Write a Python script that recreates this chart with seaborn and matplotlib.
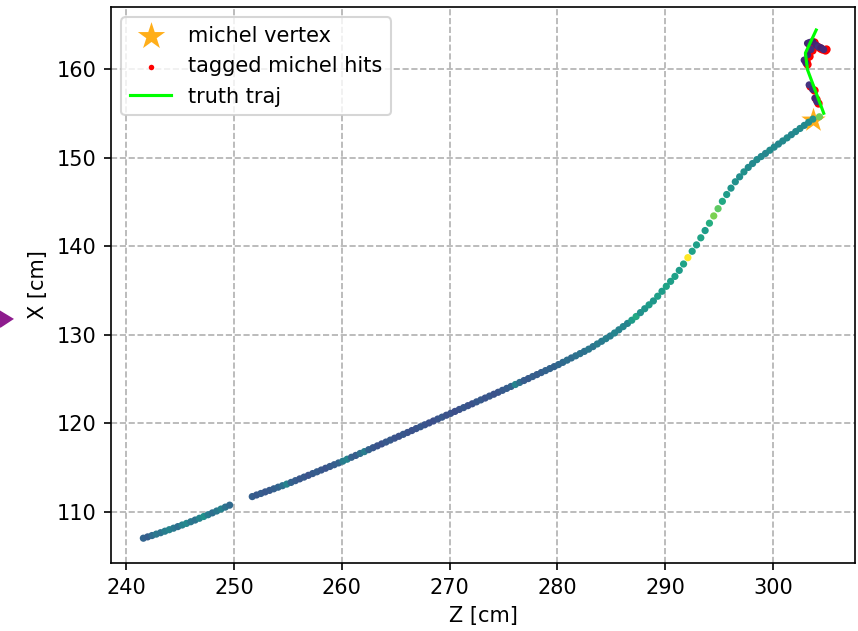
import numpy as np
import pandas as pd
import matplotlib
matplotlib.use("Agg")
import matplotlib.pyplot as plt
from matplotlib.patches import Polygon
import seaborn as sns

# track hits (Z, X in cm) and their charge (0..1, viridis)
z_track = [241.6, 242.0, 242.4, 242.8, 243.2, 243.6, 244.0, 244.4, 244.8, 245.2,
           245.6, 246.0, 246.4, 246.8, 247.2, 247.6, 248.0, 248.4, 248.8, 249.2, 249.6,
           251.7, 252.1, 252.5, 252.9, 253.3, 253.7, 254.1, 254.5, 254.9, 255.3,
           255.7, 256.1, 256.5, 256.9, 257.3, 257.7, 258.1, 258.5, 258.9, 259.3,
           259.7, 260.1, 260.5, 260.9, 261.3, 261.7, 262.1, 262.5, 262.9, 263.3,
           263.7, 264.1, 264.5, 264.9, 265.3, 265.7, 266.1, 266.5, 266.9, 267.3,
           267.7, 268.1, 268.5, 268.9, 269.3, 269.7, 270.1, 270.5, 270.9, 271.3,
           271.7, 272.1, 272.5, 272.9, 273.3, 273.7, 274.1, 274.5, 274.9, 275.3,
           275.7, 276.1, 276.5, 276.9, 277.3, 277.7, 278.1, 278.5, 278.9, 279.3,
           279.7, 280.1, 280.5, 280.9, 281.3, 281.7, 282.1, 282.5, 282.9, 283.3,
           283.7, 284.1, 284.5, 284.9, 285.3, 285.7, 286.1, 286.5, 286.9, 287.3,
           287.7, 288.1, 288.5, 288.9, 289.3, 289.7, 290.1, 290.5, 290.9, 291.3,
           291.7, 292.1, 292.5, 292.9, 293.3, 293.7, 294.1, 294.5, 294.9, 295.3,
           295.7, 296.1, 296.5, 296.9, 297.3, 297.7, 298.1, 298.5, 298.9, 299.3,
           299.7, 300.1, 300.5, 300.9, 301.3, 301.7, 302.1, 302.5, 302.9, 303.3,
           303.7, 304.3]
x_track = [107.00, 107.15, 107.30, 107.46, 107.62, 107.79, 107.96, 108.13, 108.31, 108.49,
           108.67, 108.86, 109.05, 109.25, 109.45, 109.65, 109.86, 110.07, 110.29, 110.51, 110.73,
           111.70, 111.88, 112.05, 112.23, 112.40, 112.58, 112.76, 112.93, 113.11, 113.30,
           113.50, 113.70, 113.90, 114.10, 114.30, 114.50, 114.70, 114.90, 115.10, 115.30,
           115.50, 115.70, 115.92, 116.14, 116.35, 116.57, 116.78, 117.00, 117.22, 117.43,
           117.65, 117.86, 118.08, 118.30, 118.51, 118.73, 118.94, 119.16, 119.38, 119.59,
           119.81, 120.02, 120.24, 120.46, 120.67, 120.89, 121.10, 121.32, 121.54, 121.75,
           121.97, 122.18, 122.40, 122.62, 122.83, 123.05, 123.26, 123.48, 123.70, 123.92,
           124.14, 124.36, 124.59, 124.81, 125.03, 125.26, 125.48, 125.71, 125.93, 126.16,
           126.38, 126.61, 126.86, 127.11, 127.36, 127.60, 127.85, 128.10, 128.35, 128.64,
           128.94, 129.24, 129.54, 129.84, 130.18, 130.54, 130.90, 131.26, 131.62, 132.04,
           132.48, 132.92, 133.36, 133.80, 134.33, 134.89, 135.45, 136.01, 136.57, 137.25,
           137.97, 138.69, 139.41, 140.13, 140.93, 141.75, 142.58, 143.40, 144.22, 145.05,
           145.82, 146.54, 147.26, 147.82, 148.38, 148.88, 149.32, 149.76, 150.11, 150.46,
           150.82, 151.17, 151.52, 151.87, 152.22, 152.58, 152.93, 153.28, 153.63, 153.98,
           154.34, 154.60]
q_track = [0.32, 0.30, 0.35, 0.40, 0.38, 0.42, 0.45, 0.40, 0.36, 0.44,
           0.47, 0.40, 0.38, 0.45, 0.50, 0.42, 0.36, 0.40, 0.44, 0.38, 0.34,
           0.30, 0.28, 0.29, 0.27, 0.28, 0.30, 0.32, 0.36, 0.45, 0.31,
           0.29, 0.27, 0.28, 0.26, 0.28, 0.29, 0.27, 0.26, 0.28, 0.29,
           0.31, 0.42, 0.45, 0.31, 0.29, 0.36, 0.42, 0.31, 0.27, 0.26,
           0.25, 0.27, 0.28, 0.26, 0.25, 0.27, 0.26, 0.25, 0.26, 0.27,
           0.26, 0.25, 0.24, 0.26, 0.27, 0.25, 0.26, 0.24, 0.25, 0.27,
           0.26, 0.25, 0.27, 0.28, 0.26, 0.27, 0.25, 0.26, 0.28, 0.29,
           0.31, 0.45, 0.36, 0.29, 0.28, 0.30, 0.29, 0.30, 0.31, 0.32,
           0.31, 0.33, 0.34, 0.36, 0.35, 0.37, 0.38, 0.37, 0.40, 0.39,
           0.42, 0.41, 0.43, 0.42, 0.45, 0.44, 0.46, 0.45, 0.55, 0.60,
           0.50, 0.52, 0.55, 0.53, 0.56, 0.55, 0.58, 0.56, 0.57, 0.55,
           0.58, 1.00, 0.57, 0.56, 0.58, 0.55, 0.62, 0.80, 0.75, 0.60,
           0.55, 0.52, 0.50, 0.49, 0.50, 0.48, 0.47, 0.48, 0.47, 0.46,
           0.48, 0.47, 0.46, 0.47, 0.48, 0.46, 0.47, 0.48, 0.47, 0.48,
           0.50, 0.78]

# hits around the michel candidate
z_michel = [303.20, 303.40, 303.67, 303.98, 304.20, 304.44, 304.69, 303.51,
            303.20, 302.89, 303.04, 303.35, 303.67, 303.88, 304.07]
x_michel = [162.90, 163.00, 163.10, 162.70, 162.50, 162.40, 162.20, 162.20,
            161.60, 161.00, 160.70, 158.20, 157.70, 156.70, 156.30]
q_michel = [0.10, 0.12, 0.08, 0.10, 0.14, 0.09, 0.11, 0.13,
            0.10, 0.12, 0.09, 0.15, 0.12, 0.10, 0.13]

# tagged michel hits
z_tagged = [303.32, 303.52, 303.79, 304.10, 304.32, 304.56, 304.81, 304.95,
            303.63, 303.32, 303.01, 303.16, 303.47, 303.79, 304.00, 304.19]
x_tagged = [162.80, 162.90, 163.00, 162.60, 162.40, 162.30, 162.10, 162.20,
            162.10, 161.50, 160.90, 160.60, 158.10, 157.60, 156.60, 156.20]

# michel vertex
z_vertex = [303.67]
x_vertex = [154.26]

# truth trajectory
z_truth = [304.0, 303.0, 303.2, 304.7]
x_truth = [164.4, 161.8, 159.9, 155.0]

track = pd.DataFrame({"Z": z_track + z_michel, "X": x_track + x_michel,
                      "q": q_track + q_michel})

fig = plt.figure(figsize=(858 / 150, 631 / 150), dpi=150)
ax = fig.add_axes([0.1294, 0.1078, 0.8671, 0.8811])

sns.scatterplot(x=z_tagged, y=x_tagged, color="red", s=16, linewidth=0,
                label="tagged michel hits", ax=ax, zorder=2)
sns.scatterplot(x=z_vertex, y=x_vertex, marker="*", color="orange", s=150,
                linewidth=0, alpha=0.9, label="michel vertex", ax=ax, zorder=2)
sns.scatterplot(data=track, x="Z", y="X", hue="q", palette="viridis",
                hue_norm=(0, 1), s=12, linewidth=0, legend=False, ax=ax, zorder=3)
ax.plot(z_truth, x_truth, color="lime", label="truth traj", zorder=4)

ax.set_xlim(238.6, 307.6)
ax.set_ylim(104.2, 167.0)
ax.set_xlabel("Z [cm]")
ax.set_ylabel("X [cm]")
ax.grid(True, linestyle="--")

handles, labels = ax.get_legend_handles_labels()
order = [labels.index(l) for l in ["michel vertex", "tagged michel hits", "truth traj"]]
leg = ax.legend([handles[i] for i in order], [labels[i] for i in order], loc="upper left")
leg.legend_handles[0].set_sizes([190])
leg.legend_handles[1].set_sizes([7])

# clipped marker from a neighbouring panel
fig.patches.append(Polygon([[0.0, 0.506], [0.0, 0.482], [0.014, 0.4945]], closed=True,
                           transform=fig.transFigure, color="#8e1c8e"))

fig.savefig("out.png", dpi=150)
